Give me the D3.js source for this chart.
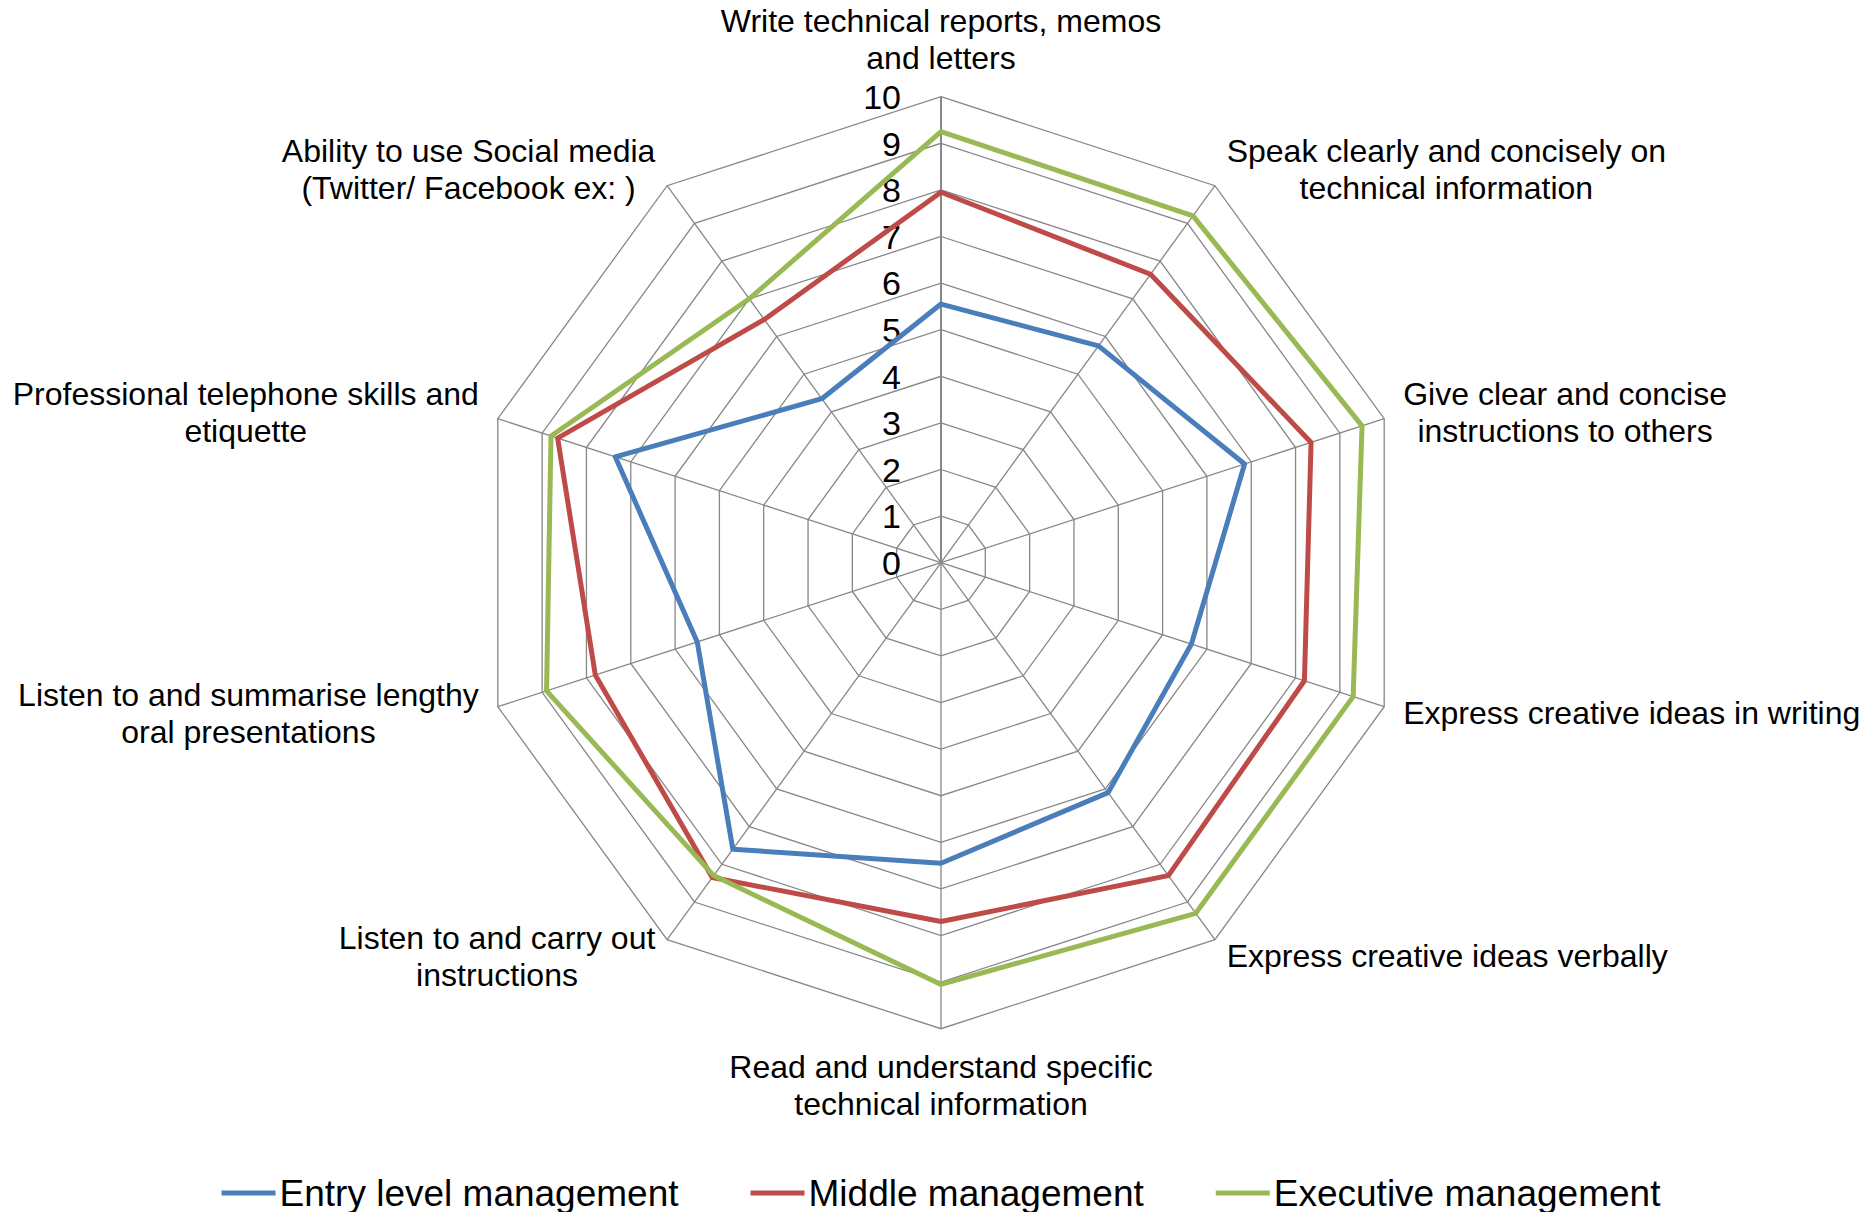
<!DOCTYPE html>
<html>
<head>
<meta charset="utf-8">
<script src="https://cdn.jsdelivr.net/npm/d3@7"></script>
<style>
  body { margin: 0; background: #fff; }
  text { font-family: "Liberation Sans", Arial, sans-serif; fill: #000; }
</style>
</head>
<body>
<div id="chart"></div>
<script>
// skills, clockwise from the top
var categories = [
    ["Write technical reports, memos", "and letters"],
    ["Speak clearly and concisely on", "technical information"],
    ["Give clear and concise", "instructions to others"],
    ["Express creative ideas in writing"],
    ["Express creative ideas verbally"],
    ["Read and understand specific", "technical information"],
    ["Listen to and carry out", "instructions"],
    ["Listen to and summarise lengthy", "oral presentations"],
    ["Professional telephone skills and", "etiquette"],
    ["Ability to use Social media", "(Twitter/ Facebook ex: )"]
];

var entryLevel = [5.55, 5.75, 6.85, 5.65, 6.1, 6.45, 7.6, 5.5, 7.35, 4.35];
var middleMgmt = [7.95, 7.65, 8.35, 8.2, 8.3, 7.7, 8.35, 7.8, 8.65, 6.45];
var executiveMgmt = [9.25, 9.2, 9.5, 9.3, 9.3, 9.05, 8.3, 8.9, 8.8, 7.0];

var seriesNames = ["Entry level management", "Middle management", "Executive management"];
var seriesColors = ["#4a7ebb", "#be4b48", "#98b954"];
var ticks = [0, 1, 2, 3, 4, 5, 6, 7, 8, 9, 10];

var width = 1876, height = 1212;
var cx = 941, cy = 562.7, R = 466;

var svg = d3.select("#chart")
    .append("svg")
    .attr("width", width)
    .attr("height", height);

var rScale = d3.scaleLinear().domain([0, 10]).range([0, R]);
var angle = d3.scaleLinear().domain([0, categories.length]).range([0, 2 * Math.PI]);

var g = svg.append("g").attr("transform", "translate(" + cx + "," + cy + ")");

function pt(i, v) {
    var a = angle(i);
    return [Math.sin(a) * rScale(v), -Math.cos(a) * rScale(v)];
}

// rings
ticks.slice(1).forEach(function (t) {
    var pts = categories.map(function (c, i) { return pt(i, t); });
    g.append("polygon")
        .attr("points", pts.map(function (p) { return p.join(","); }).join(" "))
        .style("fill", "none")
        .style("stroke", "#878787")
        .style("stroke-width", 1.3);
});

// spokes
categories.forEach(function (c, i) {
    var p = pt(i, 10);
    g.append("line")
        .attr("x1", 0).attr("y1", 0)
        .attr("x2", p[0]).attr("y2", p[1])
        .style("stroke", "#878787")
        .style("stroke-width", i == 0 ? 2 : 1.3);
});

// value labels on the top axis
g.selectAll(".tick")
    .data(ticks)
    .enter().append("text")
    .attr("class", "tick")
    .attr("x", -40)
    .attr("y", function (d) { return -rScale(d); })
    .attr("dy", "0.36em")
    .attr("text-anchor", "end")
    .style("font-size", "34px")
    .text(function (d) { return d; });

// series lines
var line = d3.lineRadial()
    .angle(function (d, i) { return angle(i); })
    .radius(function (d) { return rScale(d); })
    .curve(d3.curveLinearClosed);

[entryLevel, middleMgmt, executiveMgmt].forEach(function (s, k) {
    g.append("path")
        .attr("d", line(s))
        .style("fill", "none")
        .style("stroke", seriesColors[k])
        .style("stroke-width", 5)
        .style("stroke-linejoin", "round");
});

// category labels - lines centred inside their block, block hangs off the vertex
var lineH = 37;
categories.forEach(function (lines, i) {
    var a = angle(i);
    var x = Math.sin(a) * (R + 20), y = -Math.cos(a) * (R + 20);
    var n = lines.length;
    var top;
    if (i == 0) top = y - n * lineH;
    else if (i == categories.length / 2) top = y;
    else top = y - n * lineH / 2;
    var t = g.append("text")
        .attr("text-anchor", "middle")
        .style("font-size", "32px");
    var spans = lines.map(function (l, j) {
        return t.append("tspan")
            .attr("y", top + j * lineH + lineH / 2)
            .attr("dy", "0.35em")
            .text(l);
    });
    var w = d3.max(spans, function (s) { return s.node().getComputedTextLength(); });
    var mid = x;
    if (Math.sin(a) > 0.01) mid = x + w / 2;
    if (Math.sin(a) < -0.01) mid = x - w / 2;
    spans.forEach(function (s) { s.attr("x", mid); });
});

// legend
var legend = svg.append("g");
var lx = 0;
seriesNames.forEach(function (name, k) {
    legend.append("line")
        .attr("x1", lx).attr("x2", lx + 54)
        .attr("y1", 1193).attr("y2", 1193)
        .style("stroke", seriesColors[k])
        .style("stroke-width", 5);
    var txt = legend.append("text")
        .attr("x", lx + 58)
        .attr("y", 1206)
        .style("font-size", "37px")
        .text(name);
    lx += 58 + txt.node().getComputedTextLength() + 72;
});
lx -= 72;
legend.attr("transform", "translate(" + (cx - lx / 2) + ",0)");
</script>
</body>
</html>
